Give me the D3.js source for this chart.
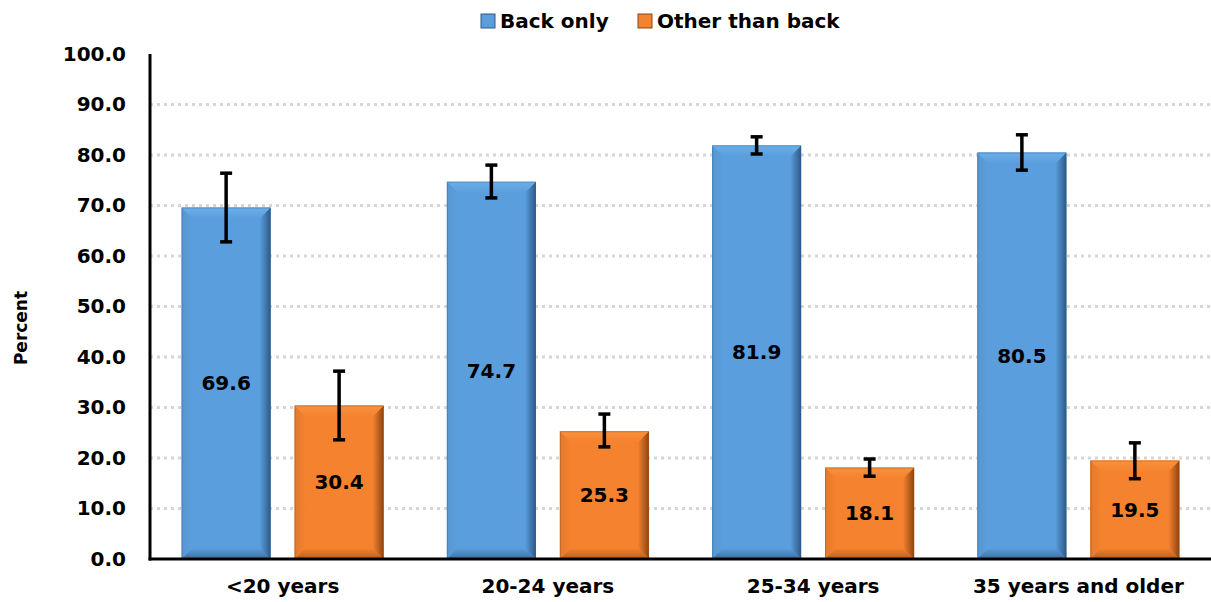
<!DOCTYPE html>
<html><head><meta charset="utf-8">
<script src="https://cdn.jsdelivr.net/npm/d3@7"></script>
<style>body{margin:0;background:#fff}svg{display:block}text{font-family:"DejaVu Sans",sans-serif;font-weight:bold}</style>
</head><body><svg id="c" width="1211" height="602"></svg>
<script>
const categories = ["<20 years","20-24 years","25-34 years","35 years and older"];
const seriesNames = ["Back only","Other than back"];
const backOnly = [69.6,74.7,81.9,80.5];
const otherThanBack = [30.4,25.3,18.1,19.5];
const backLow = [62.8,71.5,80.2,77.0];
const backHigh = [76.4,78.0,83.6,84.0];
const otherLow = [23.6,22.2,16.4,15.9];
const otherHigh = [37.2,28.7,19.8,23.0];
const yTicks = [0,10,20,30,40,50,60,70,80,90,100];

const FONT = "DejaVu Sans, sans-serif";
const svg = d3.select("#c");
const defs = svg.append("defs");
const m = {l:150, r:1211, t:54, b:559};
const x = d3.scaleBand().domain(categories).range([m.l, m.r]).paddingInner(0).paddingOuter(0);
const x1 = d3.scaleBand().domain(seriesNames).range([0, x.bandwidth()]).paddingInner(0.2124).paddingOuter(0.28);
const y = d3.scaleLinear().domain([0,100]).range([m.b, m.t]);
const colors = {"Back only":{base:"#5A9EDE",top:"#6AAEEA",left:"#5896CF",right:"#2C5A86",bottom:"#3D6F9E",edge:"#2E5A86"},
                "Other than back":{base:"#F5822E",top:"#F9913C",left:"#E07A30",right:"#8E4512",bottom:"#BA5E1C",edge:"#8E4512"}};

Object.entries(colors).forEach(([k,c],i)=>{
  const mk=(id,x1_,y1_,x2_,y2_,c1,c2)=>{const g=defs.append("linearGradient").attr("id",id+i).attr("x1",x1_).attr("y1",y1_).attr("x2",x2_).attr("y2",y2_);
    g.append("stop").attr("offset","0%").attr("stop-color",c1);g.append("stop").attr("offset","100%").attr("stop-color",c2);};
  mk("gT","0","0","0","1",c.top,c.base);
  mk("gL","0","0","1","0",c.left,c.base);
  mk("gR","1","0","0","0",c.right,c.base);
  mk("gB","0","1","0","0",c.bottom,c.base);
  c.idx=i;
});

svg.append("g").selectAll("line").data(yTicks.filter(d=>d>0&&d<100)).join("line")
  .attr("x1",m.l).attr("x2",m.r).attr("y1",d=>y(d)).attr("y2",d=>y(d))
  .attr("stroke","#d6d6d6").attr("stroke-width",3).attr("stroke-dasharray","3,4");

const yAxis = d3.axisLeft(y).tickValues(yTicks).tickFormat(d3.format(".1f")).tickSize(0).tickPadding(24);
const ya = svg.append("g").attr("transform",`translate(${m.l},0)`).call(yAxis);
ya.select(".domain").remove();
ya.selectAll("text").attr("font-size",20).attr("fill","#000").style("font-family",FONT).style("font-weight","bold");

const data = [];
categories.forEach((c,i)=>{
  data.push({c, s:seriesNames[0], v:backOnly[i], lo:backLow[i], hi:backHigh[i]});
  data.push({c, s:seriesNames[1], v:otherThanBack[i], lo:otherLow[i], hi:otherHigh[i]});
});

const bw = x1.bandwidth();
const bars = svg.append("g").selectAll("g").data(data).join("g")
  .attr("transform",d=>`translate(${x(d.c)+x1(d.s)},0)`);
bars.each(function(d){
  const g = d3.select(this);
  const top = y(d.v), bot = y(0), w = bw, h = bot-top;
  const b = Math.min(11, h/2, w/2);
  const col = colors[d.s], i = col.idx;
  g.append("rect").attr("x",0).attr("y",top).attr("width",w).attr("height",h).attr("fill",col.base);
  const poly = (pts,f)=>g.append("polygon").attr("points",pts.map(p=>p.join(",")).join(" ")).attr("fill",f);
  poly([[0,top],[b,top+b],[b,bot-b],[0,bot]], `url(#gL${i})`);
  poly([[w,top],[w,bot],[w-b,bot-b],[w-b,top+b]], `url(#gR${i})`);
  poly([[0,top],[w,top],[w-b,top+b],[b,top+b]], `url(#gT${i})`);
  poly([[0,bot],[w,bot],[w-b,bot-b],[b,bot-b]], `url(#gB${i})`);
  g.append("rect").attr("x",0.5).attr("y",top+0.5).attr("width",w-1).attr("height",h-1).attr("fill","none").attr("stroke",col.edge).attr("stroke-opacity",0.35).attr("stroke-width",1);
  const cx = w/2;
  g.append("line").attr("x1",cx).attr("x2",cx).attr("y1",y(d.lo)).attr("y2",y(d.hi)).attr("stroke","#000").attr("stroke-width",3.5);
  [d.lo,d.hi].forEach(v=>g.append("line").attr("x1",cx-6).attr("x2",cx+6).attr("y1",y(v)).attr("y2",y(v)).attr("stroke","#000").attr("stroke-width",3.5));
  g.append("text").attr("x",cx).attr("y",y(d.v/2)).attr("dy","0.36em").attr("text-anchor","middle").attr("font-size",20).attr("fill","#000").text(d.v.toFixed(1));
});

svg.append("line").attr("x1",m.l).attr("x2",m.l).attr("y1",m.t).attr("y2",m.b+1.5).attr("stroke","#000").attr("stroke-width",3);
svg.append("line").attr("x1",m.l-1.5).attr("x2",m.r).attr("y1",m.b).attr("y2",m.b).attr("stroke","#000").attr("stroke-width",3);

const xAxis = d3.axisBottom(x).tickSize(0).tickPadding(20);
const xa = svg.append("g").attr("transform",`translate(0,${m.b})`).call(xAxis);
xa.select(".domain").remove();
xa.selectAll("text").attr("font-size",20).attr("fill","#000").style("font-family",FONT).style("font-weight","bold");

svg.append("text").attr("transform","translate(27,328) rotate(-90)").attr("text-anchor","middle").attr("font-size",17).text("Percent");

const leg = svg.append("g");
const legX = [481, 638];
seriesNames.forEach((s,i)=>{
  const g = leg.append("g").attr("transform",`translate(${legX[i]},14)`);
  g.append("rect").attr("width",14).attr("height",14).attr("fill",colors[s].base).attr("stroke",colors[s].edge).attr("stroke-width",1);
  g.append("text").attr("x",19).attr("y",7).attr("dy","0.36em").attr("font-size",20).text(s);
});
</script></body></html>
